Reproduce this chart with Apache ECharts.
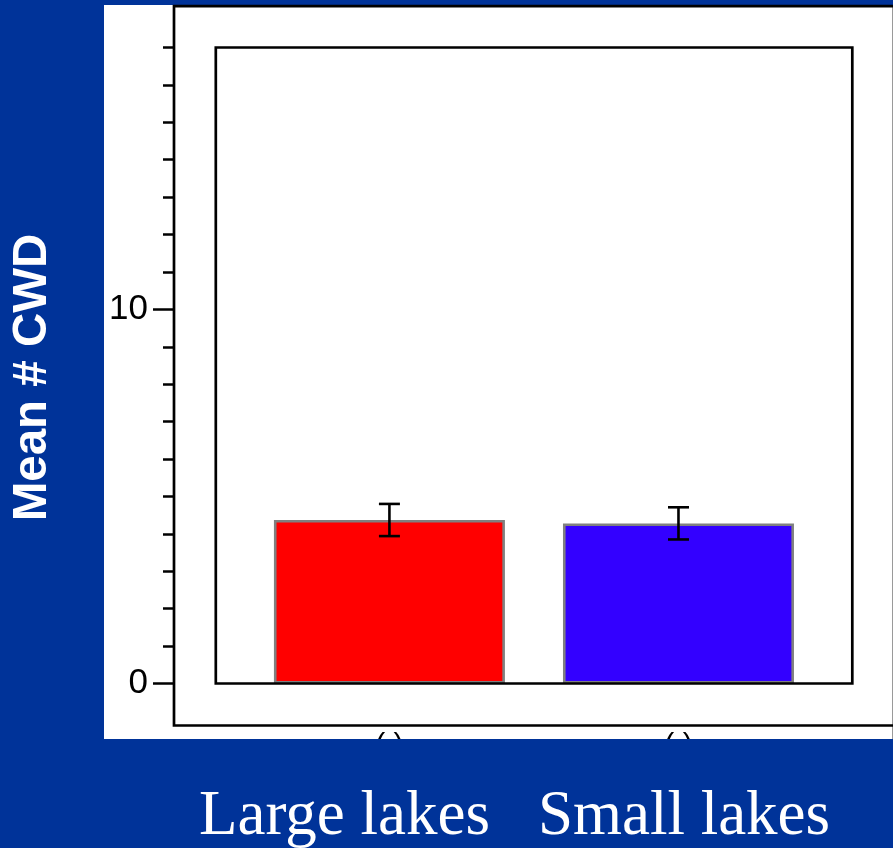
<!DOCTYPE html>
<html>
<head>
<meta charset="utf-8">
<script src="https://cdn.jsdelivr.net/npm/echarts@6/dist/echarts.min.js"></script>
<style>
  html, body { margin: 0; padding: 0; background: #003399; }
  #chart { width: 893px; height: 848px; }
</style>
</head>
<body>
<div id="chart"></div>
<script>
// Mean number of coarse woody debris pieces per lake class
var categories = ['Large lakes', 'Small lakes'];
var meanCWD = [4.37, 4.28];
var stdErr = [0.43, 0.43];
var barColors = ['#ff0000', '#3300ff'];
var tickLabelText = ['( )', '( )'];
var yMin = 0;
var yMax = 17;
var majorTicks = [0, 10];
var minorStep = 1;

var SLIDE_BLUE = '#003399';
var SANS = '"Liberation Sans", Arial, sans-serif';
var SERIF = '"Liberation Serif", "Times New Roman", serif';

var chart = echarts.init(document.getElementById('chart'), null, { renderer: 'canvas' });

var option = {
  backgroundColor: SLIDE_BLUE,
  animation: false,
  grid: [{ left: 244.9, right: 70, top: 47.5, bottom: 164.5, containLabel: false }],
  xAxis: [{
    type: 'category',
    data: categories,
    boundaryGap: true,
    axisLine: { show: false },
    axisTick: { show: false },
    splitLine: { show: false },
    axisLabel: {
      show: true,
      margin: 47,
      color: '#000',
      fontFamily: SANS,
      fontSize: 30,
      formatter: function (v, i) { return tickLabelText[i]; }
    }
  }],
  yAxis: [
    {
      // minor ticks every unit
      type: 'value', min: yMin, max: yMax, interval: minorStep,
      position: 'left', offset: 70.9,
      axisLine: { show: false },
      splitLine: { show: false },
      axisLabel: { show: false },
      axisTick: { show: true, inside: false, length: 11, lineStyle: { color: '#000', width: 2.5 } }
    },
    {
      // labelled major ticks
      type: 'value', min: yMin, max: yMax, interval: 10,
      position: 'left', offset: 70.9,
      axisLine: { show: false },
      splitLine: { show: false },
      axisTick: { show: true, length: 21, customValues: majorTicks, lineStyle: { color: '#000', width: 2.5 } },
      axisLabel: {
        show: true, customValues: majorTicks, margin: 26,
        color: '#000', fontFamily: SANS, fontSize: 35
      }
    }
  ],
  series: [
    {
      type: 'bar',
      xAxisIndex: 0, yAxisIndex: 0,
      barWidth: 231,
      z: 2,
      data: meanCWD.map(function (v, i) {
        return { value: v, itemStyle: { color: barColors[i], borderColor: '#808080', borderWidth: 2.6 } };
      })
    },
    {
      type: 'custom',
      xAxisIndex: 0, yAxisIndex: 0,
      z: 5,
      data: meanCWD.map(function (v, i) { return [i, v - stdErr[i], v + stdErr[i]]; }),
      renderItem: function (params, api) {
        var lo = api.coord([api.value(0), api.value(1)]);
        var hi = api.coord([api.value(0), api.value(2)]);
        var half = 10.5;
        var st = { stroke: '#000', lineWidth: 2.6 };
        return {
          type: 'group',
          children: [
            { type: 'line', shape: { x1: hi[0], y1: hi[1], x2: lo[0], y2: lo[1] }, style: st },
            { type: 'line', shape: { x1: hi[0] - half, y1: hi[1], x2: hi[0] + half, y2: hi[1] }, style: st },
            { type: 'line', shape: { x1: lo[0] - half, y1: lo[1], x2: lo[0] + half, y2: lo[1] }, style: st }
          ]
        };
      }
    }
  ],
  graphic: [
    // white panel behind the plot
    { type: 'rect', z: -10, shape: { x: 104, y: 5, width: 789, height: 734 }, style: { fill: '#ffffff' } },
    { type: 'line', z: -9, shape: { x1: 892.5, y1: 5, x2: 892.5, y2: 739 }, style: { stroke: '#9a9a9a', lineWidth: 1 } },
    // outer axis frame
    { type: 'polyline', z: 10, shape: { points: [[893, 6.2], [174, 6.2], [174, 725.5], [893, 725.5]] },
      style: { stroke: '#000', lineWidth: 2.7, fill: null } },
    // inner plot box
    { type: 'rect', z: 10, shape: { x: 215.8, y: 47.5, width: 636.5, height: 636 },
      style: { stroke: '#000', lineWidth: 2.7, fill: null } },
    // blue band along the bottom
    { type: 'rect', z: 50, shape: { x: 0, y: 739, width: 893, height: 109 }, style: { fill: SLIDE_BLUE } },
    // y-axis title
    { type: 'text', z: 60, x: 33, y: 377.5, rotation: Math.PI / 2,
      style: { text: 'Mean # CWD', fill: '#ffffff', font: 'bold 47.5px ' + SANS, align: 'center', verticalAlign: 'middle' } },
    // category captions
    { type: 'text', z: 60, x: 344.5, y: 817,
      style: { text: categories[0], fill: '#ffffff', font: '63px ' + SERIF, align: 'center', verticalAlign: 'middle' } },
    { type: 'text', z: 60, x: 684, y: 817,
      style: { text: categories[1], fill: '#ffffff', font: '63px ' + SERIF, align: 'center', verticalAlign: 'middle' } }
  ]
};

chart.setOption(option);
</script>
</body>
</html>
